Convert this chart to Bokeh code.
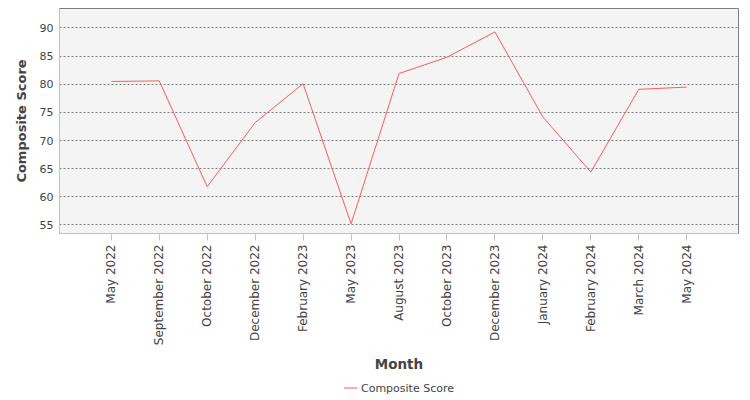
import math
from bokeh.plotting import figure
from bokeh.layouts import column
from bokeh.models import FactorRange, Range1d, FixedTicker, Legend, LegendItem, ColumnDataSource
from bokeh.embed import file_html
from bokeh.resources import INLINE

months = ["May 2022", "September 2022", "October 2022", "December 2022", "February 2023",
          "May 2023", "August 2023", "October 2023", "December 2023", "January 2024",
          "February 2024", "March 2024", "May 2024"]
composite_score = [80.5, 80.6, 61.8, 73.2, 80.1, 55.2, 81.9, 84.8, 89.3, 74.2, 64.4, 79.1, 79.5]
y_ticks = [55, 60, 65, 70, 75, 80, 85, 90]
series_name = "Composite Score"
line_color = "#ff5a5a"

src = ColumnDataSource(dict(month=months, score=composite_score))

p = figure(width=750, height=375, output_backend="svg", toolbar_location=None,
           x_range=FactorRange(*months, range_padding=0.58, range_padding_units="absolute"),
           y_range=Range1d(53.49, 93.46),
           min_border_left=59, min_border_right=12, min_border_top=8, min_border_bottom=0)

r = p.line("month", "score", source=src, line_color=line_color, line_width=1)

p.background_fill_color = "#f4f4f4"
p.border_fill_color = "white"
p.outline_line_color = "#808080"
p.outline_line_width = 1

p.xgrid.grid_line_color = None
p.ygrid.grid_line_color = "#808080"
p.ygrid.grid_line_dash = "2 2"
p.ygrid.grid_line_width = 1

p.yaxis.ticker = FixedTicker(ticks=y_ticks)
p.yaxis.major_tick_out = 0
p.yaxis.major_tick_in = 0
p.yaxis.minor_tick_out = 0
p.yaxis.axis_line_color = "#c0c0c0"
p.yaxis.major_label_text_font = "DejaVu Sans"
p.yaxis.major_label_text_font_size = "11px"
p.yaxis.major_label_text_color = "#444444"
p.yaxis.major_label_standoff = 6
p.yaxis.axis_label = series_name
p.yaxis.axis_label_text_font = "DejaVu Sans"
p.yaxis.axis_label_text_font_size = "13px"
p.yaxis.axis_label_text_font_style = "bold"
p.yaxis.axis_label_text_color = "#444444"
p.yaxis.axis_label_standoff = 8

p.xaxis.axis_line_color = "#c0c0c0"
p.xaxis.major_tick_out = 7
p.xaxis.major_tick_in = 0
p.xaxis.major_tick_line_color = "#c0c0c0"
p.xaxis.major_label_orientation = math.pi / 2
p.xaxis.major_label_text_font = "DejaVu Sans"
p.xaxis.major_label_text_font_size = "12px"
p.xaxis.major_label_text_color = "#444444"
p.xaxis.major_label_standoff = 4
p.xaxis.axis_label = "Month"
p.xaxis.axis_label_text_font = "DejaVu Sans"
p.xaxis.axis_label_text_font_size = "13.5px"
p.xaxis.axis_label_text_font_style = "bold"
p.xaxis.axis_label_text_color = "#444444"
p.xaxis.axis_label_standoff = 8

# legend strip below the chart (its line renderer lies outside its own view)
p2 = figure(width=750, height=25, output_backend="svg", toolbar_location=None,
            x_range=FactorRange(*months), y_range=Range1d(0, 1),
            x_axis_type=None, y_axis_type=None,
            min_border_left=0, min_border_right=0, min_border_top=0, min_border_bottom=0)
p2.outline_line_color = None
p2.background_fill_color = "white"
p2.border_fill_color = "white"
p2.xgrid.grid_line_color = None
p2.ygrid.grid_line_color = None
r2 = p2.line("month", "score", source=src, line_color=line_color, line_width=1)

legend = Legend(items=[LegendItem(label=series_name, renderers=[r2])],
                location="center", orientation="horizontal",
                border_line_color=None, background_fill_alpha=0,
                label_text_font="DejaVu Sans", label_text_font_size="11px",
                label_text_color="#444444", glyph_width=14, glyph_height=12,
                label_standoff=4, padding=2, margin=0)
p2.add_layout(legend)

layout = column(p, p2, spacing=0)
open("out.html", "w").write(file_html(layout, INLINE))
